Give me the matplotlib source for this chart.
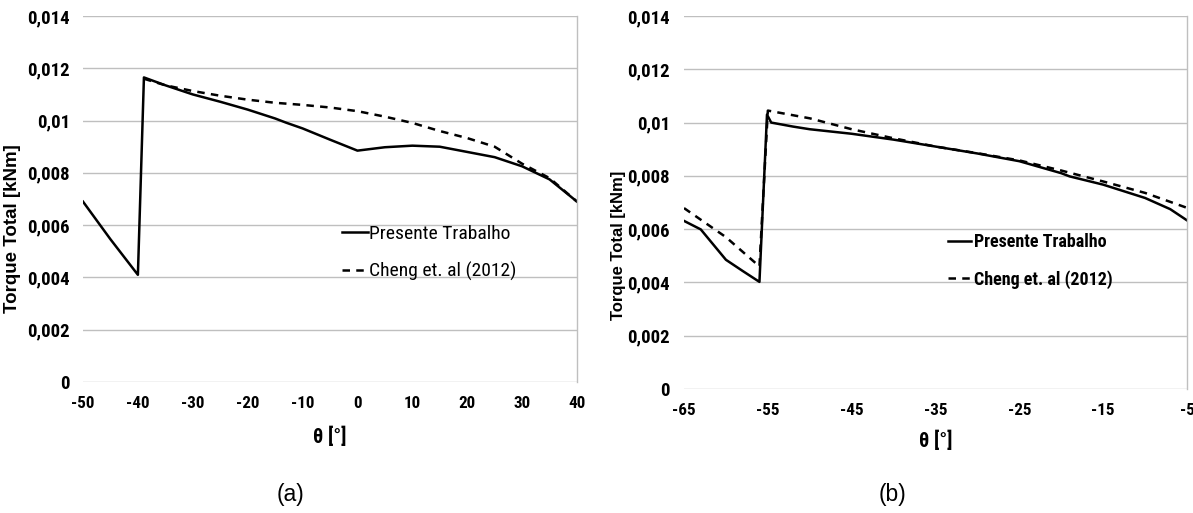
import os
import matplotlib
matplotlib.use('Agg')
import matplotlib.pyplot as plt
from matplotlib import font_manager as fm

# (a) torque vs theta
theta_a_pt = [-50, -45, -40, -38.9, -35, -30, -25, -20, -15, -13, -10, -5, 0, 5, 10, 15, 20, 25, 30, 35, 40]
torque_a_pt = [0.0069, 0.00546, 0.0041, 0.01165, 0.01135, 0.0110, 0.01072, 0.01042, 0.01008, 0.00992,
               0.0097, 0.00927, 0.00885, 0.00898, 0.00904, 0.0090, 0.0088, 0.0086, 0.00825, 0.00775, 0.0069]
theta_a_ch = [-38.9, -35, -30, -25, -20, -15, -10, -5, 0, 5, 10, 15, 20, 25, 30, 35, 40]
torque_a_ch = [0.0116, 0.01135, 0.01113, 0.01095, 0.0108, 0.01068, 0.0106, 0.0105, 0.01036, 0.01015,
               0.00991, 0.0096, 0.00933, 0.0090, 0.00835, 0.0078, 0.0069]

# (b) torque vs theta
theta_b_pt = [-65, -63, -60, -58, -56, -55.1, -54.6, -52, -50, -45, -40, -35, -30, -25, -20, -19, -15, -10, -7, -5]
torque_b_pt = [0.00631, 0.00599, 0.00485, 0.00443, 0.00402, 0.0103, 0.0100, 0.00985, 0.00975, 0.00958,
               0.00936, 0.0091, 0.00884, 0.00855, 0.0081, 0.00798, 0.00767, 0.00717, 0.00675, 0.00633]
theta_b_ch = [-65, -60, -56, -55, -50, -45, -40, -35, -30, -25, -20, -15, -10, -5]
torque_b_ch = [0.00679, 0.0057, 0.0046, 0.01045, 0.01016, 0.00975, 0.00941, 0.0091, 0.00885, 0.00858,
               0.0082, 0.00779, 0.00736, 0.0068]

yticks = [0, 0.002, 0.004, 0.006, 0.008, 0.010, 0.012, 0.014]
ytick_labels = ['0', '0,002', '0,004', '0,006', '0,008', '0,01', '0,012', '0,014']
xticks_a = [-50, -40, -30, -20, -10, 0, 10, 20, 30, 40]
xticks_b = [-65, -55, -45, -35, -25, -15, -5]

series_names = ['Presente Trabalho', 'Cheng et. al (2012)']

grid_col = '#bfbfbf'


# look for a narrow sans (the original used Calibri); fall back to Liberation Sans
def find_narrow(bold):
    prefs = ['Liberation Sans Narrow', 'Roboto Condensed', 'Open Sans Condensed', 'DejaVu Sans']
    found = {}
    for f in fm.fontManager.ttflist:
        key = f.name + ' ' + os.path.basename(f.fname)
        if not any(k in key for k in ('Narrow', 'Condensed')):
            continue
        w = f.weight if isinstance(f.weight, int) else (700 if 'bold' in str(f.weight).lower() else 400)
        if (w >= 600) != bold or f.style != 'normal':
            continue
        if bold and w > 750:
            continue
        if not bold and w < 350:
            continue
        for p in prefs:
            if f.name.startswith(p) and p not in found:
                found[p] = f.fname
    for p in prefs:
        if p in found:
            return found[p]
    return None


nb = find_narrow(True)
nr = find_narrow(False)
if nb and nr:
    scale = 1.0
    def fp(size, bold=False):
        return fm.FontProperties(fname=nb if bold else nr, size=size)
else:
    scale = 0.84
    def fp(size, bold=False):
        return fm.FontProperties(family='Liberation Sans', weight='bold' if bold else 'normal', size=size * scale)

fig = plt.figure(figsize=(11.93, 5.13), dpi=100)
W, H = 1193.0, 513.0


def make_axes(x0, x1, ytop, ybot):
    return fig.add_axes([x0 / W, 1 - ybot / H, (x1 - x0) / W, (ybot - ytop) / H])


def style_axes(ax, xticks, ypad):
    ax.set_ylim(0, 0.014)
    ax.set_yticks(yticks)
    ax.set_yticklabels(ytick_labels, fontproperties=fp(13.5, True))
    ax.set_xticks(xticks)
    ax.set_xticklabels([str(t) for t in xticks], fontproperties=fp(12.3, True))
    ax.tick_params(length=0)
    ax.tick_params(axis='y', pad=ypad)
    ax.tick_params(axis='x', pad=10)
    ax.grid(axis='y', color=grid_col, lw=1.0)
    ax.set_axisbelow(True)
    for s in ['left', 'top', 'bottom']:
        ax.spines[s].set_visible(False)
    ax.spines['right'].set_color(grid_col)
    ax.spines['right'].set_linewidth(1.0)


# ---- (a)
ax1 = make_axes(83, 577, 16, 382)
ax1.plot(theta_a_pt, torque_a_pt, color='black', lw=1.8, label=series_names[0])
ax1.plot(theta_a_ch, torque_a_ch, color='black', lw=1.8, dashes=(3, 2.5), label=series_names[1])
ax1.set_xlim(-50, 40)
style_axes(ax1, xticks_a, 9.5)
ax1.set_xlabel('θ [°]', fontproperties=fp(14.5, True))
ax1.xaxis.set_label_coords(0.5, -0.150)
ax1.xaxis.label.set_va('center')
ax1.set_ylabel('Torque Total [kNm]', family='Liberation Sans', fontweight='bold', fontsize=13.5)
ax1.yaxis.set_label_coords(-0.142, 0.42)
ax1.yaxis.label.set_va('center')
ax1.legend(loc='upper left', bbox_to_anchor=(342 / W, 1 - 225 / H), bbox_transform=fig.transFigure,
           frameon=False, borderpad=0, borderaxespad=0, handlelength=1.35, handletextpad=0.05,
           labelspacing=0.95, prop=fp(14))

# ---- (b)
ax2 = make_axes(684, 1187, 16, 389)
ax2.plot(theta_b_pt, torque_b_pt, color='black', lw=1.8, label=series_names[0])
ax2.plot(theta_b_ch, torque_b_ch, color='black', lw=1.8, dashes=(3, 2.5), label=series_names[1])
ax2.set_xlim(-65, -5)
style_axes(ax2, xticks_b, 10)
ax2.set_xlabel('θ [°]', fontproperties=fp(14.5, True))
ax2.xaxis.set_label_coords(0.5, -0.139)
ax2.xaxis.label.set_va('center')
ax2.set_ylabel('Torque Total [kNm]', family='Liberation Sans', fontweight='bold', fontsize=12)
ax2.yaxis.set_label_coords(-0.131, 0.386)
ax2.yaxis.label.set_va('center')
ax2.legend(loc='upper left', bbox_to_anchor=(948 / W, 1 - 233 / H), bbox_transform=fig.transFigure,
           frameon=False, borderpad=0, borderaxespad=0, handlelength=1.3, handletextpad=0.15,
           labelspacing=1.05, prop=fp(13, True))

fig.text(290 / W, 1 - 494 / H, '(a)', family='Liberation Sans', fontsize=16.5, ha='center', va='center')
fig.text(893 / W, 1 - 494 / H, '(b)', family='Liberation Sans', fontsize=16.5, ha='center', va='center')

fig.savefig('out.png', dpi=100)
